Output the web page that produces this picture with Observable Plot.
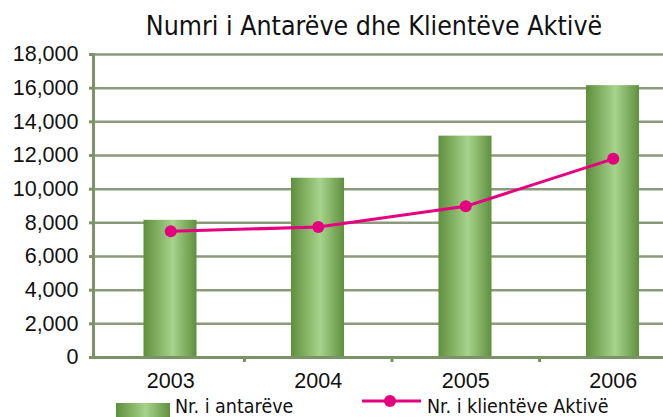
<!DOCTYPE html>
<html><head><meta charset="utf-8">
<script src="https://cdn.jsdelivr.net/npm/d3@7"></script>
<script src="https://cdn.jsdelivr.net/npm/@observablehq/plot@0.6"></script>
<style>
html,body{margin:0;padding:0;background:#fff;}
body{width:663px;height:417px;overflow:hidden;position:relative;}
#title{height:44px;width:578px;margin-left:85px;text-align:center;line-height:52px;font-family:"Liberation Sans Narrow","Arial Narrow","DejaVu Sans Condensed",sans-serif;font-size:26.5px;color:#111;white-space:nowrap;}
#chart svg{display:block;overflow:visible;}
#legend{display:block;}
</style></head><body>
<div id="title">Numri i Antarëve dhe Klientëve Aktivë</div>
<div id="chart"></div>
<svg id="legend" width="663" height="27"></svg>
<script>
const years = [2003, 2004, 2005, 2006];
const members = [8150, 10650, 13150, 16150];
const activeClients = [7500, 7750, 8980, 11800];
const yTicks = [0, 2000, 4000, 6000, 8000, 10000, 12000, 14000, 16000, 18000];
const seriesNames = ["Nr. i antarëve", "Nr. i klientëve Aktivë"];

const data = years.map((y, i) => ({year: y, members: members[i], clients: activeClients[i]}));
const magenta = "#e5007f";
const gridColor = "#8a9a7a";
const axisColor = "#7b9465";
const tickFont = "Liberation Sans, Arial, sans-serif";

const defsMark = () => {
  const defs = d3.create("svg:defs");
  const g = defs.append("linearGradient").attr("id", "barGrad").attr("x1", "0").attr("x2", "1").attr("y1", "0").attr("y2", "0");
  g.append("stop").attr("offset", "0").attr("stop-color", "#5e8f3c");
  g.append("stop").attr("offset", "0.55").attr("stop-color", "#a7d38b");
  g.append("stop").attr("offset", "1").attr("stop-color", "#5f903e");
  return defs.node();
};

const chart = Plot.plot({
  width: 663,
  height: 346,
  marginTop: 10,
  marginBottom: 33,
  marginLeft: 93,
  marginRight: 0,
  style: {fontFamily: tickFont, fontSize: "21.5px", color: "#111", background: "transparent", overflow: "visible"},
  x: {type: "linear", domain: [years[0] - 0.5, years[years.length - 1] + 0.5], range: [96.5, 686.5], axis: null, label: null},
  y: {domain: [0, 18000], axis: null, label: null},
  marks: [
    defsMark,
    Plot.ruleY(yTicks.slice(1), {stroke: gridColor, strokeWidth: 2.5}),
    Plot.rectY(data, {x1: d => d.year - 0.5, x2: d => d.year + 0.5, y: "members", insetLeft: 47, insetRight: 47.5, fill: "url(#barGrad)"}),
    Plot.ruleY([0], {stroke: axisColor, strokeWidth: 3}),
    Plot.frame({anchor: "left", stroke: axisColor, strokeWidth: 3}),
    Plot.axisY(yTicks, {tickSize: 4, tickPadding: 11, stroke: axisColor, strokeWidth: 3, tickFormat: d3.format(","), fill: "#111", label: null}),
    Plot.axisX(years.slice(0, -1).map(y => y + 0.5), {tickSize: 5, tickFormat: () => "", stroke: axisColor, strokeWidth: 3, label: null}),
    Plot.axisX(years, {tickSize: 0, tickPadding: 15, tickFormat: d => String(d), fill: "#111", label: null}),
    Plot.line(data, {x: "year", y: "clients", stroke: magenta, strokeWidth: 3}),
    Plot.dot(data, {x: "year", y: "clients", r: 6, fill: magenta, stroke: "none"})
  ]
});
document.getElementById("chart").append(chart);

// legend
const lg = d3.select("#legend");
const ldefs = lg.append("defs").append("linearGradient").attr("id", "legGrad").attr("x1", "0").attr("x2", "1");
ldefs.append("stop").attr("offset", "0").attr("stop-color", "#5e8f3c");
ldefs.append("stop").attr("offset", "0.55").attr("stop-color", "#a7d38b");
ldefs.append("stop").attr("offset", "1").attr("stop-color", "#5f903e");
lg.append("rect").attr("x", 116).attr("y", 13).attr("width", 54).attr("height", 16).attr("fill", "url(#legGrad)");
const legFont = "Liberation Sans Narrow, Arial Narrow, DejaVu Sans Condensed, sans-serif";
lg.append("text").attr("x", 175).attr("y", 23).attr("font-family", legFont).attr("font-size", 19.5).attr("fill", "#111").text(seriesNames[0]);
lg.append("line").attr("x1", 362).attr("x2", 421).attr("y1", 11).attr("y2", 11).attr("stroke", magenta).attr("stroke-width", 3);
lg.append("circle").attr("cx", 390).attr("cy", 11).attr("r", 6).attr("fill", magenta);
lg.append("text").attr("x", 427).attr("y", 23).attr("font-family", legFont).attr("font-size", 19.5).attr("fill", "#111").text(seriesNames[1]);
</script>
</body></html>
